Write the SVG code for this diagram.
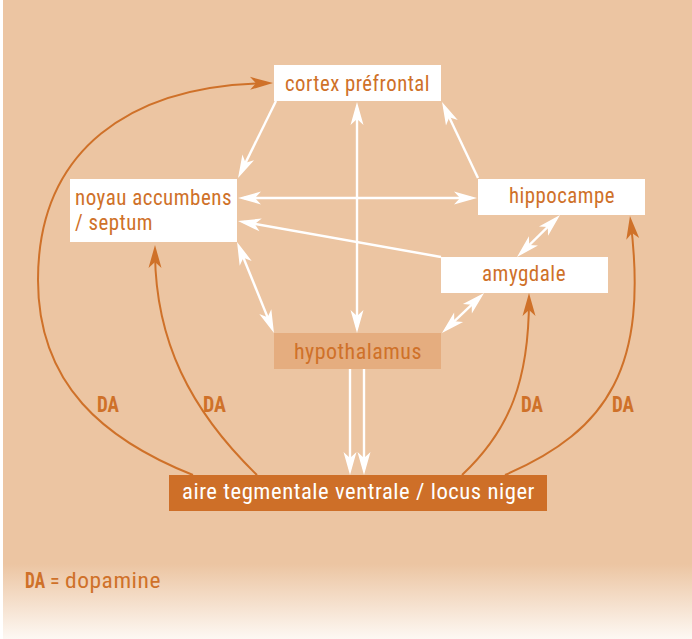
<svg xmlns="http://www.w3.org/2000/svg" width="692" height="639" viewBox="0 0 692 639">
<style>
.lbl{font-family:"Liberation Sans Narrow","Roboto Condensed","DejaVu Sans Condensed","Liberation Sans",sans-serif;font-size:22px;fill:#CF7129;letter-spacing:0.5px}
.da{font-family:"Liberation Sans Narrow","Roboto Condensed","DejaVu Sans Condensed","Liberation Sans",sans-serif;font-size:22px;font-weight:bold;fill:#CF7129}
.box{fill:#FFFFFF}
.w{stroke:#FFFFFF;stroke-width:2.4;fill:none}
.o{stroke:#CF7129;stroke-width:2;fill:none}
</style>
<defs>
<linearGradient id="bg" x1="0" y1="0" x2="0" y2="1">
<stop offset="0" stop-color="#ECC5A2"/>
<stop offset="1" stop-color="#FDF8F3"/>
</linearGradient>
<marker id="aw" viewBox="-18 -7 25 14" refX="0" refY="0" markerWidth="25" markerHeight="14" markerUnits="userSpaceOnUse" orient="auto-start-reverse">
<path d="M6,0 L-17,-6.5 L-11,0 L-17,6.5 Z" fill="#FFFFFF"/>
</marker>
<marker id="ao" viewBox="-18 -7 25 14" refX="0" refY="0" markerWidth="25" markerHeight="14" markerUnits="userSpaceOnUse" orient="auto">
<path d="M6,0 L-17,-6.5 L-11,0 L-17,6.5 Z" fill="#CF7129"/>
</marker>
</defs>
<rect x="0" y="0" width="692" height="639" fill="#FFFFFF"/>
<rect x="3" y="0" width="689" height="565" fill="#ECC5A2"/>
<rect x="3" y="564" width="689" height="75" fill="url(#bg)"/>

<g id="connectors">
<line class="w" x1="276" y1="101" x2="240.7" y2="172.6" marker-end="url(#aw)"/>
<line class="w" x1="357" y1="108" x2="357" y2="327" marker-start="url(#aw)" marker-end="url(#aw)"/>
<line class="w" x1="478" y1="178" x2="444.6" y2="107.4" marker-end="url(#aw)"/>
<line class="w" x1="244" y1="198" x2="471" y2="198" marker-start="url(#aw)" marker-end="url(#aw)"/>
<line class="w" x1="441" y1="257" x2="243.9" y2="222" marker-end="url(#aw)"/>
<line class="w" x1="555.7" y1="219.2" x2="521.3" y2="252.8" marker-start="url(#aw)" marker-end="url(#aw)"/>
<line class="w" x1="239.3" y1="247.6" x2="271.7" y2="327.4" marker-start="url(#aw)" marker-end="url(#aw)"/>
<line class="w" x1="479.7" y1="297.1" x2="446.3" y2="328.9" marker-start="url(#aw)" marker-end="url(#aw)"/>
<line class="w" x1="350" y1="369" x2="350" y2="469" marker-end="url(#aw)"/>
<line class="w" x1="364" y1="369" x2="364" y2="469" marker-end="url(#aw)"/>
<path class="o" d="M193,475 C105,440 38,385 38,280 C38,150 130,85 267,83.1" marker-end="url(#ao)"/>
<path class="o" d="M257,475 C190,410 155,340 155,251" marker-end="url(#ao)"/>
<path class="o" d="M462,475 C510,430 529,380 529,299" marker-end="url(#ao)"/>
<path class="o" d="M505,475 C610,430 648,365 630.7,222" marker-end="url(#ao)"/>
<text class="da" x="97" y="412" textLength="22" lengthAdjust="spacingAndGlyphs">DA</text>
<text class="da" x="203" y="412" textLength="23" lengthAdjust="spacingAndGlyphs">DA</text>
<text class="da" x="521" y="412" textLength="22" lengthAdjust="spacingAndGlyphs">DA</text>
<text class="da" x="612" y="412" textLength="22" lengthAdjust="spacingAndGlyphs">DA</text>
</g>

<g id="cortex">
<rect class="box" x="274" y="65" width="167" height="36"/>
<text class="lbl" x="285" y="91" textLength="145" lengthAdjust="spacingAndGlyphs">cortex préfrontal</text>
</g>
<g id="noyau">
<rect class="box" x="70" y="179" width="167" height="63"/>
<text class="lbl" x="75" y="205" textLength="157" lengthAdjust="spacingAndGlyphs">noyau accumbens</text>
<text class="lbl" x="75" y="230" textLength="78" lengthAdjust="spacingAndGlyphs">/ septum</text>
</g>
<g id="hippocampe">
<rect class="box" x="478" y="179" width="167" height="36"/>
<text class="lbl" x="509" y="203" textLength="106" lengthAdjust="spacingAndGlyphs">hippocampe</text>
</g>
<g id="amygdale">
<rect class="box" x="441" y="257" width="167" height="36"/>
<text class="lbl" x="482" y="281" textLength="84" lengthAdjust="spacingAndGlyphs">amygdale</text>
</g>
<g id="hypothalamus">
<rect x="274" y="333" width="167" height="36" fill="#E5AD7F"/>
<text class="lbl" x="294" y="359" textLength="128" lengthAdjust="spacingAndGlyphs">hypothalamus</text>
</g>
<g id="atv">
<rect x="169" y="475" width="378" height="36" fill="#CE6F28"/>
<text class="lbl" x="182" y="499" textLength="353" lengthAdjust="spacingAndGlyphs" style="fill:#FFFFFF">aire tegmentale ventrale / locus niger</text>
</g>
<g id="legend">
<text class="da" x="25" y="588" textLength="20" lengthAdjust="spacingAndGlyphs">DA</text>
<text class="lbl" x="50" y="588" textLength="10" lengthAdjust="spacingAndGlyphs">=</text>
<text class="lbl" x="65" y="588" textLength="96" lengthAdjust="spacingAndGlyphs">dopamine</text>
</g>
</svg>
